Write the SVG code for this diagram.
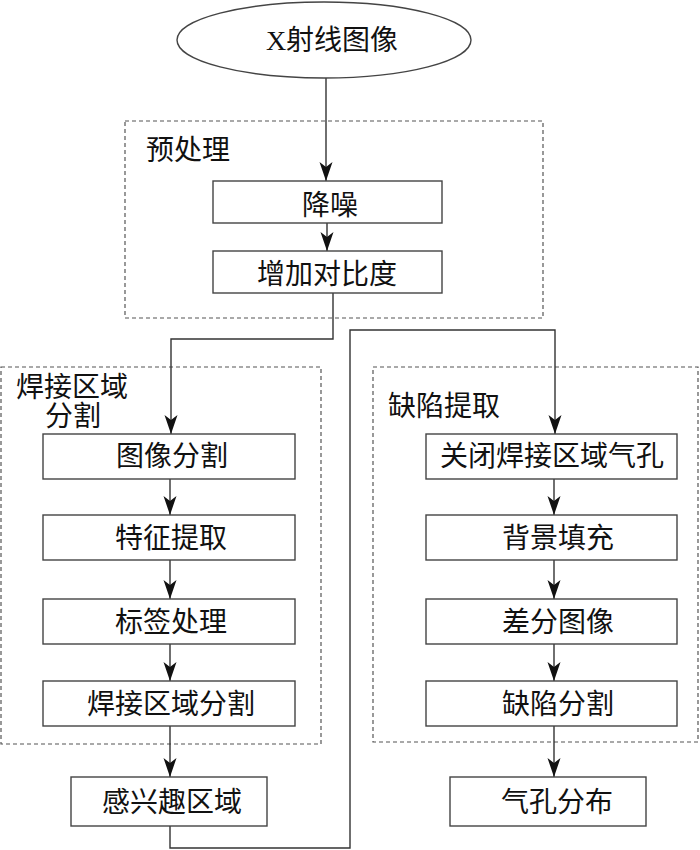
<svg xmlns="http://www.w3.org/2000/svg" width="700" height="850" viewBox="0 0 700 850">
<style>
.bx{fill:#fff;stroke:#444;stroke-width:1.4}
.grp{fill:none;stroke:#555;stroke-width:1.2;stroke-dasharray:4 3}
.t{font-family:"Liberation Serif","Noto Sans CJK SC",serif;font-size:28px;fill:#111;text-anchor:middle}
.lb{font-family:"Liberation Serif","Noto Sans CJK SC",serif;font-size:28px;fill:#111}
.c{fill:none;stroke:#333;stroke-width:1.4}
</style>
<defs>
<marker id="ah" markerUnits="userSpaceOnUse" markerWidth="24" markerHeight="16" refX="0" refY="0" viewBox="-20 -8 22 16" orient="auto">
<path d="M0,0 L-19,-6.5 L-14,0 L-19,6.5 z" fill="#111"/>
</marker>
</defs>
<rect width="700" height="850" fill="#fff"/>
<g id="groups">
<rect id="g-pre" class="grp" x="125" y="121" width="418" height="197"/>
<text class="lb" x="146" y="160">预处理</text>
<rect id="g-weld" class="grp" x="1" y="367" width="320" height="377"/>
<text class="lb" x="16" y="397">焊接区域</text>
<text class="lb" x="45" y="426">分割</text>
<rect id="g-defect" class="grp" x="373" y="367" width="325" height="375"/>
<text class="lb" x="388" y="416">缺陷提取</text>
</g>
<g id="connectors">
<line class="c" x1="326" y1="78" x2="326" y2="181" marker-end="url(#ah)"/>
<line class="c" x1="327" y1="223" x2="327" y2="251" marker-end="url(#ah)"/>
<polyline class="c" points="333,293 333,339 171,339 171,434" marker-end="url(#ah)"/>
<line class="c" x1="170" y1="479" x2="170" y2="515" marker-end="url(#ah)"/>
<line class="c" x1="170" y1="560" x2="170" y2="599" marker-end="url(#ah)"/>
<line class="c" x1="170" y1="644" x2="170" y2="681" marker-end="url(#ah)"/>
<line class="c" x1="170" y1="726" x2="170" y2="777" marker-end="url(#ah)"/>
<polyline class="c" points="170,826 170,848 350,848 350,330 555,330 555,434" marker-end="url(#ah)"/>
<line class="c" x1="554" y1="479" x2="554" y2="515" marker-end="url(#ah)"/>
<line class="c" x1="554" y1="560" x2="554" y2="599" marker-end="url(#ah)"/>
<line class="c" x1="554" y1="644" x2="554" y2="681" marker-end="url(#ah)"/>
<line class="c" x1="554" y1="726" x2="554" y2="777" marker-end="url(#ah)"/>
</g>
<g id="n-xray"><ellipse class="bx" cx="324" cy="40" rx="147" ry="38"/><text class="t" x="332" y="50">X射线图像</text></g>
<g id="n-denoise"><rect class="bx" x="213" y="181" width="229" height="42"/><text class="t" x="330" y="215">降噪</text></g>
<g id="n-contrast"><rect class="bx" x="213" y="251" width="229" height="42"/><text class="t" x="327" y="284">增加对比度</text></g>
<g id="n-imgseg"><rect class="bx" x="43" y="434" width="252" height="45"/><text class="t" x="172" y="466">图像分割</text></g>
<g id="n-feat"><rect class="bx" x="43" y="515" width="252" height="45"/><text class="t" x="171" y="548">特征提取</text></g>
<g id="n-label"><rect class="bx" x="43" y="599" width="252" height="45"/><text class="t" x="171" y="632">标签处理</text></g>
<g id="n-weldseg"><rect class="bx" x="43" y="681" width="252" height="45"/><text class="t" x="171" y="714">焊接区域分割</text></g>
<g id="n-roi"><rect class="bx" x="71" y="777" width="196" height="49"/><text class="t" x="172" y="812">感兴趣区域</text></g>
<g id="n-close"><rect class="bx" x="426" y="434" width="251" height="45"/><text class="t" x="552" y="466">关闭焊接区域气孔</text></g>
<g id="n-bg"><rect class="bx" x="426" y="515" width="251" height="45"/><text class="t" x="558" y="548">背景填充</text></g>
<g id="n-diff"><rect class="bx" x="426" y="599" width="251" height="45"/><text class="t" x="558" y="632">差分图像</text></g>
<g id="n-defseg"><rect class="bx" x="426" y="681" width="251" height="45"/><text class="t" x="558" y="714">缺陷分割</text></g>
<g id="n-pore"><rect class="bx" x="450" y="777" width="196" height="49"/><text class="t" x="557" y="812">气孔分布</text></g>
</svg>
